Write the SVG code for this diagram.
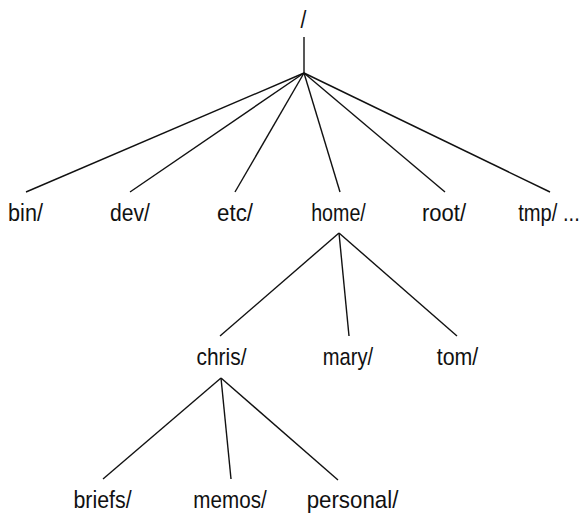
<svg xmlns="http://www.w3.org/2000/svg" width="583" height="513" viewBox="0 0 583 513">
<style>
text{font-family:"Liberation Sans",Arial,sans-serif;font-size:24px;fill:#111;text-anchor:middle}
.c line{stroke:#111;stroke-width:1.4}
</style>
<rect width="583" height="513" fill="#fff"/>
<g id="connectors" class="c">
<line x1="304" y1="37" x2="304" y2="73"/>
<line x1="304" y1="73" x2="26" y2="192"/>
<line x1="304" y1="73" x2="130" y2="192"/>
<line x1="304" y1="73" x2="235" y2="192"/>
<line x1="304" y1="73" x2="340" y2="192"/>
<line x1="304" y1="73" x2="445" y2="192"/>
<line x1="304" y1="73" x2="550" y2="192"/>
<line x1="339" y1="233" x2="220" y2="336"/>
<line x1="339" y1="233" x2="349" y2="336"/>
<line x1="339" y1="233" x2="457" y2="336"/>
<line x1="221" y1="378" x2="103" y2="479"/>
<line x1="221" y1="378" x2="231" y2="479"/>
<line x1="221" y1="378" x2="338" y2="480"/>
</g>
<g id="root"><text transform="matrix(0.88 0 0 1 303.5 28)">/</text></g>
<g id="bin"><text transform="matrix(0.90 0 0 1 25.5 221)">bin/</text></g>
<g id="dev"><text transform="matrix(0.88 0 0 1 130 221)">dev/</text></g>
<g id="etc"><text transform="matrix(0.93 0 0 1 235 221)">etc/</text></g>
<g id="home"><text transform="matrix(0.82 0 0 1 338.5 221)">home/</text></g>
<g id="rootdir"><text transform="matrix(0.92 0 0 1 444 221)">root/</text></g>
<g id="tmp"><text transform="matrix(0.84 0 0 1 549 221)">tmp/ ...</text></g>
<g id="chris"><text transform="matrix(0.87 0 0 1 221.5 365)">chris/</text></g>
<g id="mary"><text transform="matrix(0.84 0 0 1 348 365)">mary/</text></g>
<g id="tom"><text transform="matrix(0.89 0 0 1 457.5 365)">tom/</text></g>
<g id="briefs"><text transform="matrix(0.89 0 0 1 102.5 508)">briefs/</text></g>
<g id="memos"><text transform="matrix(0.86 0 0 1 230 508)">memos/</text></g>
<g id="personal"><text transform="matrix(0.93 0 0 1 352.5 508)">personal/</text></g>
</svg>
